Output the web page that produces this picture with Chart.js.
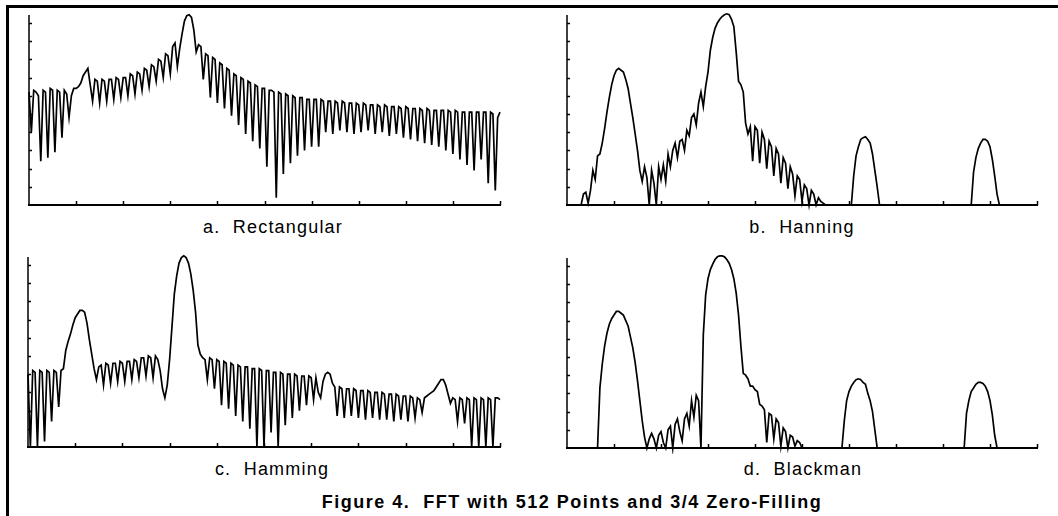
<!DOCTYPE html>
<html>
<head>
<meta charset="utf-8">
<script src="https://cdn.jsdelivr.net/npm/chart.js@4.4.1/dist/chart.umd.min.js"></script>
<style>
  html, body { margin: 0; padding: 0; background: #fff; }
  body { width: 1058px; height: 516px; position: relative; overflow: hidden; font-family: "Liberation Sans", Arial, Helvetica, sans-serif; color: #000; }
  canvas { position: absolute; }
  .frame { position: absolute; background: #000; }
  .label { position: absolute; width: 300px; text-align: center; font-size: 18px; line-height: 18px; letter-spacing: 1.2px; white-space: pre; }
  .caption { position: absolute; left: 272px; width: 600px; top: 493px; text-align: center; font-size: 18px; line-height: 18px; font-weight: bold; letter-spacing: 1.5px; white-space: pre; }
</style>
</head>
<body>
<div class="frame" style="left:6px; top:5px; width:1052px; height:3px;"></div>
<div class="frame" style="left:6px; top:5px; width:3px; height:511px;"></div>

<canvas id="chartA"></canvas>
<canvas id="chartB"></canvas>
<canvas id="chartC"></canvas>
<canvas id="chartD"></canvas>

<div class="label" id="labelA" style="left:123px; top:218px;"></div>
<div class="label" id="labelB" style="left:652px; top:218px;"></div>
<div class="label" id="labelC" style="left:122px; top:460px;"></div>
<div class="label" id="labelD" style="left:653px; top:460px;"></div>
<div class="caption" id="caption"></div>

<script>
// Magnitude spectra, one value per frequency bin (0..200)
const rectangular = [
    6.2, 4.0, 6.3, 6.2, 6.0, 2.4, 6.3, 6.2, 2.6, 6.4, 6.3, 2.9, 6.3, 6.2, 3.7, 6.3, 6.1, 4.8, 6.0, 6.4, 6.4,
    6.5, 6.7, 7.1, 7.3, 7.5, 6.6, 5.7,
    6.9, 6.8, 5.6, 6.9, 6.8, 5.7, 6.9, 6.9, 5.8, 7.0, 6.9, 5.9, 7.0, 7.0, 6.0, 7.2, 7.1, 6.1,
    7.3, 7.2, 6.3, 7.5, 7.4, 6.5, 7.7, 7.6, 6.8, 8.0, 7.9, 7.0, 8.3, 8.2, 7.2, 8.7, 8.9, 7.6,
    8.6, 9.4, 10.1, 10.4, 10.45, 10.3, 9.6, 8.4,
    8.8, 8.7, 6.9, 8.3, 8.2, 5.9, 8.1, 8.0, 5.6, 7.8, 7.7, 5.3, 7.5, 7.4, 4.9, 7.2, 7.1, 4.4,
    7.0, 6.9, 3.9, 6.8, 6.7, 3.5,
    6.6, 6.5, 3.1, 6.4, 6.4, 2.1, 6.3, 6.3, 6.2, 0.4,
    6.2, 6.1, 1.7, 6.1, 6.0, 2.3, 6.0, 5.9, 2.7, 5.9, 5.9, 3.0, 5.8, 5.8, 3.2, 5.8, 5.8, 3.2,
    5.8, 5.7, 4.0, 5.7, 5.7, 3.9, 5.7, 5.6, 4.1, 5.7, 5.6, 4.0, 5.6, 5.6, 3.9, 5.6, 5.5, 4.0,
    5.6, 5.5, 4.1, 5.5, 5.5, 3.9, 5.5, 5.4, 4.0, 5.5, 5.4, 3.8, 5.4, 5.4, 3.9, 5.4, 5.3, 3.7,
    5.4, 5.3, 3.6, 5.3, 5.3, 3.5, 5.3, 5.2, 3.4, 5.3, 5.2, 3.3, 5.2, 5.2, 3.2, 5.2, 5.2, 3.0,
    5.2, 5.1, 2.8, 5.2, 5.1, 2.5, 5.1, 5.1, 2.2, 5.1, 5.1, 1.9, 5.1, 5.1, 2.5, 5.1, 5.1, 1.2,
    5.1, 5.0, 0.8,
    4.8, 5.1
];

const hanning = [
    0, 0, 0, 0, 0, 0, 0,
    0.6, 0.7, 0.1,
    0.8, 1.9, 1.4, 2.7, 2.8, 3.4, 4.2, 5.1, 5.9, 6.6, 7.1, 7.4, 7.5, 7.4, 7.3, 6.9, 6.4, 5.6, 4.8, 3.9,
    3.0, 1.9, 1.3,
    2.1, 1.5, 0.0, 1.9, 1.2, 0.0, 2.1, 1.4, 2.2, 1.3, 2.8, 2.1, 3.0, 3.4, 2.6, 3.5, 3.6, 3.0,
    4.1, 3.8, 4.8, 5.0, 4.4, 5.6, 6.2, 5.4, 6.5, 7.3,
    8.5, 9.2, 9.7, 10.0, 10.2, 10.35, 10.45, 10.5, 10.45, 10.2, 9.8, 8.4, 6.8, 6.6, 6.2,
    4.5, 3.9, 4.3, 2.4, 4.3, 4.1, 2.3, 4.0, 3.6, 2.0, 3.5, 3.2, 1.6, 3.1, 2.8, 1.2, 2.6, 2.3,
    0.9, 2.1, 1.7, 0.5, 1.6, 1.4, 0.2, 1.1, 0.9, 0.0, 0.8, 0.6, 0.0, 0.4, 0.2, 0.1,
    0, 0, 0, 0, 0, 0, 0, 0, 0, 0, 0,
    0.0, 1.6, 2.7, 3.2, 3.6, 3.7, 3.75, 3.6, 3.4, 2.8, 1.9, 1.0, 0.0,
    0, 0, 0, 0, 0, 0, 0, 0, 0, 0, 0, 0, 0, 0, 0, 0, 0, 0, 0,
    0, 0, 0, 0, 0, 0, 0, 0, 0, 0, 0, 0, 0, 0, 0, 0, 0, 0, 0,
    0.0, 1.8, 2.6, 3.1, 3.4, 3.6, 3.6, 3.5, 3.2, 2.5, 1.6, 0.6, 0.0,
    0, 0, 0, 0, 0, 0, 0, 0, 0, 0, 0, 0, 0, 0, 0, 0
];

const hamming = [
    4.0, 0.0, 4.2, 4.1, 0.0, 4.2, 4.1, 0.3, 4.2, 4.1, 1.4, 4.2, 4.1, 2.2, 4.2, 4.3,
    5.3, 5.8, 6.2, 6.7, 7.1, 7.3, 7.5, 7.5, 7.4, 6.8, 5.9, 5.1, 4.3, 3.7, 4.4,
    4.5, 3.4, 4.6, 4.5, 3.5, 4.6, 4.6, 3.6, 4.7, 4.6, 3.6, 4.7, 4.7, 3.7, 4.8, 4.7, 3.8,
    4.9, 4.9, 3.9, 5.0, 4.9, 3.8, 5.0, 4.8,
    4.2, 3.2, 2.7, 3.4,
    4.8, 6.6, 8.4, 9.4, 10.1, 10.4, 10.5, 10.4, 10.1, 9.5, 8.6, 7.4, 5.6, 5.1,
    4.9, 4.8, 3.7, 4.9, 4.8, 3.2, 4.8, 4.7, 2.3, 4.7, 4.6, 2.1, 4.6, 4.5, 1.7, 4.5, 4.4, 1.4,
    4.4, 4.4, 1.0, 4.3, 4.3, 0.0, 4.3, 4.2, 0.0, 4.2, 4.2, 0.8, 4.1, 4.1, 0.0, 4.1, 4.0, 1.2,
    4.0, 4.0, 1.6, 4.0, 3.9, 2.0, 3.9, 3.9, 2.3, 3.9, 3.8, 2.6,
    3.8, 3.0, 2.7, 3.6, 4.0, 4.1, 4.0, 3.5,
    3.3, 1.7,
    3.3, 3.2, 1.6, 3.2, 3.2, 1.7, 3.2, 3.1, 1.6, 3.1, 3.1, 1.5, 3.1, 3.0, 1.6, 3.0, 3.0, 1.5,
    3.0, 2.9, 1.5, 2.9, 2.9, 1.4, 2.9, 2.8, 1.5, 2.8, 2.8, 1.4, 2.8, 2.7, 1.6, 2.7, 2.6, 1.9,
    2.7, 2.8, 2.9, 3.0, 3.1, 3.3, 3.5, 3.7, 3.7, 3.4, 2.9, 2.4,
    2.7, 2.6, 1.4, 2.7, 2.6, 1.3, 2.7, 2.6, 0.0, 2.7, 2.6, 0.0, 2.7, 2.6, 0.0, 2.7, 2.6, 0.0,
    2.7, 2.7, 2.6
];

const blackman = [
    0, 0, 0, 0, 0, 0, 0, 0, 0, 0, 0, 0, 0,
    0.0, 3.3, 4.6, 5.6, 6.3, 6.8, 7.1, 7.3, 7.5, 7.5, 7.4, 7.3, 7.0, 6.7, 6.1, 5.5, 4.7, 3.7,
    2.6, 1.5, 0.6, 0.0,
    0.5, 0.8, 0.5, 0.0, 0.7, 0.9, 0.3, 0.0, 1.0, 1.2, 0.0, 1.3, 1.6, 0.9, 0.4, 1.6, 1.9, 1.2,
    2.6, 1.7, 2.9, 2.6, 0.0,
    6.2, 8.4, 9.3, 9.8, 10.1, 10.35, 10.5, 10.55, 10.55, 10.5, 10.35, 10.15, 9.8, 9.3, 8.5, 7.3,
    5.6, 4.1,
    4.0, 3.8, 3.4, 3.4, 3.2, 3.1, 2.4, 2.3, 2.1, 0.3, 1.9, 1.8, 0.5, 1.6, 1.4, 0.1, 1.1, 0.9,
    0.0, 0.7, 0.6, 0.1, 0.4, 0.3, 0.0,
    0, 0, 0, 0, 0, 0, 0, 0, 0, 0, 0, 0, 0, 0, 0, 0,
    0.0, 1.5, 2.6, 3.1, 3.4, 3.6, 3.75, 3.8, 3.75, 3.6, 3.5, 3.0, 2.6, 2.0, 1.0, 0.0,
    0, 0, 0, 0, 0, 0, 0, 0, 0, 0, 0, 0, 0, 0, 0, 0, 0, 0,
    0, 0, 0, 0, 0, 0, 0, 0, 0, 0, 0, 0, 0, 0, 0, 0, 0, 0,
    0.0, 1.9, 2.6, 3.1, 3.3, 3.5, 3.6, 3.6, 3.55, 3.4, 3.1, 2.6, 1.8, 0.7, 0.0,
    0, 0, 0, 0, 0, 0, 0, 0, 0, 0, 0, 0, 0, 0, 0, 0, 0
];

// Tick marks (in bins and in magnitude units)
const xTicks = [20, 40, 60, 80, 100, 120, 140, 160, 180, 200];
const yTicks = [1, 2, 3, 4, 5, 6, 7, 8, 9, 10];
const xMax = 200;
const yMax = 10.6;

const panelTitles = ['a.  Rectangular', 'b.  Hanning', 'c.  Hamming', 'd.  Blackman'];
const captionText = 'Figure 4.  FFT with 512 Points and 3/4 Zero-Filling';

// Draws the axis lines with ticks pointing inwards, like the original plots
const inwardAxes = {
    id: 'inwardAxes',
    afterDatasetsDraw(chart) {
        const { ctx, chartArea, scales } = chart;
        const x0 = scales.x.getPixelForValue(0);
        const y0 = scales.y.getPixelForValue(0);
        const xEnd = scales.x.getPixelForValue(xMax);
        ctx.save();
        ctx.strokeStyle = '#000';
        ctx.lineWidth = 1.5;
        ctx.beginPath();
        ctx.moveTo(x0, chartArea.top + 3);
        ctx.lineTo(x0, y0);
        yTicks.forEach(v => {
            const py = Math.round(scales.y.getPixelForValue(v)) + 0.5;
            ctx.moveTo(x0, py);
            ctx.lineTo(x0 + 3, py);
        });
        xTicks.forEach(v => {
            const px = Math.round(scales.x.getPixelForValue(v)) + 0.5;
            ctx.moveTo(px, y0);
            ctx.lineTo(px, y0 - 4);
        });
        ctx.stroke();
        ctx.lineWidth = 2;
        ctx.beginPath();
        ctx.moveTo(x0 - 1, y0);
        ctx.lineTo(xEnd + 1, y0);
        ctx.stroke();
        ctx.restore();
    }
};

function makePanel(id, values, area) {
    const pad = 6;
    const canvas = document.getElementById(id);
    canvas.width = area.right - area.left + 2 * pad;
    canvas.height = area.bottom - area.top + 2 * pad;
    canvas.style.left = (area.left - pad) + 'px';
    canvas.style.top = (area.top - pad) + 'px';

    return new Chart(canvas.getContext('2d'), {
        type: 'line',
        data: {
            datasets: [{
                data: values.map((v, i) => ({ x: i, y: v })),
                borderColor: '#000',
                borderWidth: 1.7,
                pointRadius: 0,
                tension: 0,
                clip: false
            }]
        },
        options: {
            responsive: false,
            animation: false,
            devicePixelRatio: 1,
            layout: { padding: pad },
            scales: {
                x: { type: 'linear', min: 0, max: xMax, display: false },
                y: { min: 0, max: yMax, display: false }
            },
            plugins: { legend: { display: false }, tooltip: { enabled: false } }
        },
        plugins: [inwardAxes]
    });
}

makePanel('chartA', rectangular, { left: 29, right: 500, top: 12, bottom: 205 });
makePanel('chartB', hanning, { left: 567, right: 1037, top: 12, bottom: 205 });
makePanel('chartC', hamming, { left: 28, right: 500, top: 254, bottom: 447 });
makePanel('chartD', blackman, { left: 567, right: 1037, top: 255, bottom: 448 });

['labelA', 'labelB', 'labelC', 'labelD'].forEach((id, k) => {
    document.getElementById(id).textContent = panelTitles[k];
});
document.getElementById('caption').textContent = captionText;
</script>
</body>
</html>
